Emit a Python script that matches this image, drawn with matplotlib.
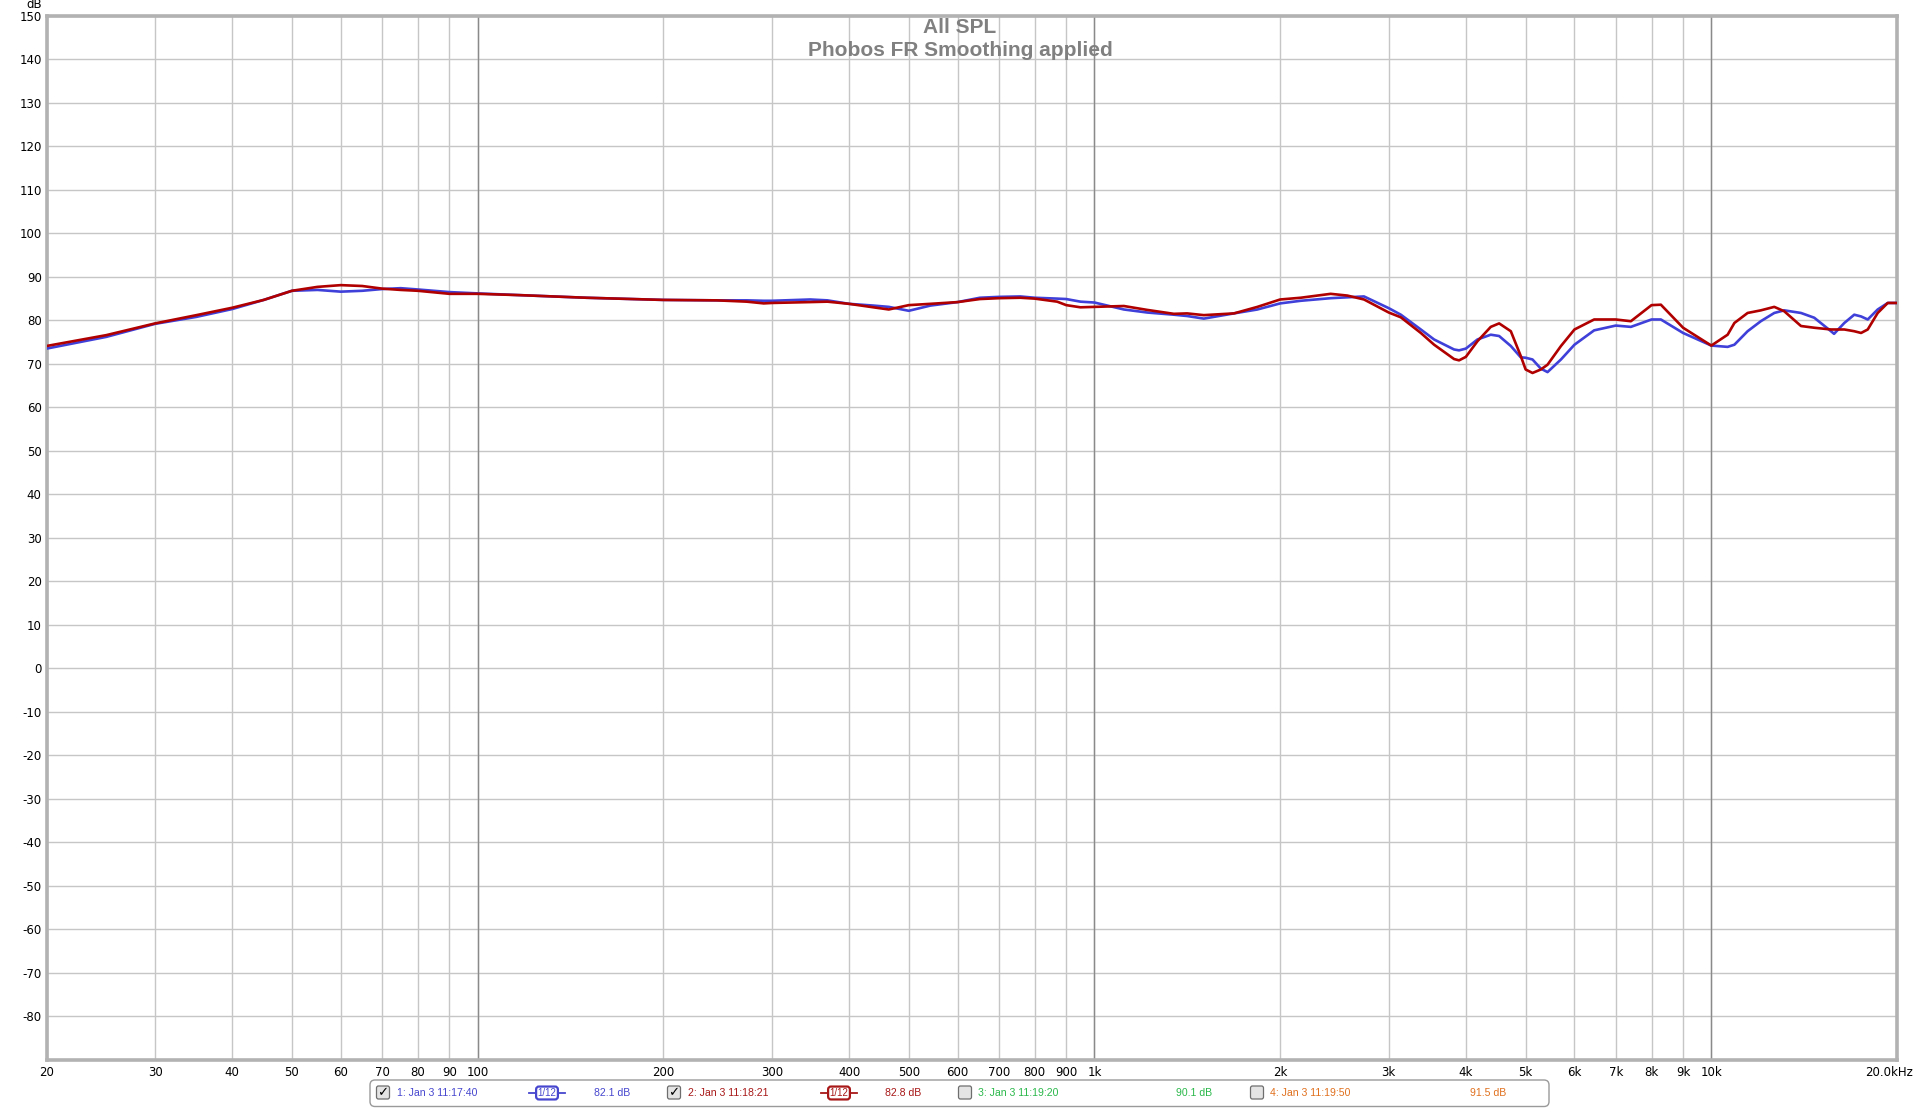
import matplotlib
matplotlib.use("Agg")
import matplotlib.pyplot as plt
from matplotlib.patches import FancyBboxPatch
from matplotlib.lines import Line2D
import matplotlib.transforms as mtransforms

# ---------------- data ----------------
freq_blue = [20, 25, 30, 35, 40, 45, 50, 55, 60, 65, 70, 75, 80, 90, 100, 117, 150, 200, 244,
             273, 291, 300, 346, 369, 400, 438, 464, 500, 542, 600, 652, 700, 758, 800, 870,
             900, 949, 1000, 1116, 1218, 1345, 1413, 1504, 1683, 1837, 2000, 2159, 2415, 2570,
             2735, 3000, 3138, 3381, 3553, 3828, 3900, 4000, 4177, 4390, 4529, 4731, 4910,
             5000, 5130, 5292, 5426, 5705, 6000, 6457, 7000, 7406, 8000, 8284, 9000, 10000,
             10628, 10900, 11451, 12029, 12649, 13127, 13975, 14686, 15633, 15813, 16430,
             17050, 17490, 17930, 18610, 19320, 20000]
spl_blue = [73.5, 76.2, 79.2, 80.8, 82.6, 84.7, 86.8, 87.0, 86.6, 86.8, 87.2, 87.4, 87.1, 86.5,
            86.2, 85.8, 85.2, 84.7, 84.6, 84.6, 84.5, 84.5, 84.8, 84.6, 83.8, 83.4, 83.1, 82.2,
            83.4, 84.2, 85.2, 85.4, 85.5, 85.2, 85.0, 84.9, 84.3, 84.1, 82.5, 81.8, 81.3, 81.0,
            80.4, 81.6, 82.5, 83.9, 84.5, 85.1, 85.3, 85.5, 82.8, 81.3, 77.9, 75.6, 73.3, 73.1,
            73.5, 75.6, 76.7, 76.4, 74.1, 71.5, 71.4, 71.0, 68.9, 68.1, 71.0, 74.4, 77.7, 78.8,
            78.5, 80.2, 80.2, 77.1, 74.2, 73.9, 74.4, 77.5, 79.8, 81.7, 82.3, 81.7, 80.6, 77.5,
            76.9, 79.4, 81.3, 80.9, 80.2, 82.5, 84.0, 84.0]

freq_red = [20, 25, 30, 35, 40, 45, 50, 55, 60, 65, 70, 75, 80, 90, 100, 117, 150, 200, 244,
            273, 291, 300, 346, 369, 400, 438, 464, 500, 542, 600, 652, 700, 758, 800, 870,
            900, 949, 1000, 1116, 1218, 1345, 1413, 1504, 1683, 1837, 2000, 2159, 2415, 2570,
            2735, 3000, 3138, 3381, 3553, 3828, 3900, 4000, 4177, 4390, 4529, 4731, 4910,
            5000, 5130, 5292, 5426, 5705, 6000, 6457, 7000, 7406, 8000, 8284, 9000, 10000,
            10628, 10900, 11451, 12029, 12649, 13127, 13975, 14686, 15633, 16430, 17050,
            17490, 17930, 18610, 19320, 20000]
spl_red = [74.1, 76.6, 79.3, 81.2, 82.9, 84.7, 86.8, 87.7, 88.1, 87.9, 87.3, 87.0, 86.8, 86.1,
           86.1, 85.8, 85.2, 84.7, 84.6, 84.3, 83.9, 84.0, 84.2, 84.3, 83.8, 83.0, 82.5, 83.5,
           83.8, 84.2, 84.9, 85.1, 85.2, 85.0, 84.3, 83.5, 83.0, 83.1, 83.3, 82.4, 81.5, 81.6,
           81.2, 81.6, 83.1, 84.8, 85.2, 86.1, 85.7, 84.8, 81.8, 80.7, 77.1, 74.4, 71.1, 70.8,
           71.6, 75.2, 78.5, 79.3, 77.5, 71.8, 68.7, 67.9, 68.7, 69.8, 74.1, 77.9, 80.2, 80.2,
           79.8, 83.5, 83.6, 78.3, 74.2, 76.7, 79.4, 81.7, 82.3, 83.1, 82.1, 78.7, 78.3, 77.9,
           77.9, 77.5, 77.1, 77.9, 81.7, 84.0, 84.0]

xticks = [20, 30, 40, 50, 60, 70, 80, 90, 100, 200, 300, 400, 500, 600, 700, 800, 900,
          1000, 2000, 3000, 4000, 5000, 6000, 7000, 8000, 9000, 10000, 20000]
xtick_labels = ["20", "30", "40", "50", "60", "70", "80", "90", "100", "200", "300", "400",
                "500", "600", "700", "800", "900", "1k", "2k", "3k", "4k", "5k", "6k", "7k",
                "8k", "9k", "10k", "20.0kHz"]
decades = [100, 1000, 10000]
yticks = list(range(150, -81, -10))
ytick_labels = [str(v) for v in yticks]

title_lines = ["All SPL", "Phobos FR Smoothing applied"]
legend_labels = ["1: Jan 3 11:17:40", "2: Jan 3 11:18:21", "3: Jan 3 11:19:20", "4: Jan 3 11:19:50"]
legend_levels = ["82.1 dB", "82.8 dB", "90.1 dB", "91.5 dB"]
legend_checked = [True, True, False, False]
legend_smoothing = ["1/12", "1/12", None, None]

# ---------------- style ----------------
W, H = 1920, 1108
BLUE = "#3f3fd9"
RED = "#b00000"
legend_colors = ["#4646cf", "#a81818", "#2ab84a", "#e0701e"]
GRID = "#c6c6c6"
DECADE = "#8a8a8a"

fig = plt.figure(figsize=(W / 100, H / 100), dpi=100)
fig.patch.set_facecolor("white")

L, R, T, B = 46.5, 1897, 16, 1059.5
ax = fig.add_axes([L / W, 1 - B / H, (R - L) / W, (B - T) / H])
ax.set_xscale("log")
ax.set_xlim(20, 20000)
ax.set_ylim(-90, 150)

ax.set_xticks(xticks)
ax.set_xticklabels(xtick_labels)
ax.xaxis.set_minor_locator(matplotlib.ticker.NullLocator())
ax.set_yticks(yticks)
ax.set_yticklabels(ytick_labels)
ax.tick_params(axis="both", length=0, labelsize=8.5, colors="black")
ax.tick_params(axis="x", pad=5)
ax.tick_params(axis="y", pad=3.5)
for lab in ax.get_xticklabels() + ax.get_yticklabels():
    lab.set_fontfamily("DejaVu Sans")

last = ax.get_xticklabels()[-1]
last.set_horizontalalignment("right")
last.set_transform(last.get_transform() + mtransforms.ScaledTranslation(16 / 100, 0, fig.dpi_scale_trans))

ax.grid(True, which="major", color=GRID, linewidth=1.0)
for d in decades:
    ax.axvline(d, color=DECADE, linewidth=1.0, zorder=1.5)
ax.set_axisbelow(True)

for s in ax.spines.values():
    s.set_color("#b2b2b2")
    s.set_linewidth(2.6)

ax.plot(freq_blue, spl_blue, color=BLUE, linewidth=1.9, zorder=3, solid_capstyle="round", solid_joinstyle="round")
ax.plot(freq_red, spl_red, color=RED, linewidth=1.9, zorder=4, solid_capstyle="round", solid_joinstyle="round")

# ---------------- overlay in pixel coordinates ----------------
ov = fig.add_axes([0, 0, 1, 1], facecolor="none")
ov.set_xlim(0, W)
ov.set_ylim(H, 0)
ov.axis("off")

ov.text(960, 33, title_lines[0], ha="center", va="baseline", fontsize=15, fontweight="bold",
        color="#808080", family="Liberation Sans")
ov.text(960, 56, title_lines[1], ha="center", va="baseline", fontsize=15, fontweight="bold",
        color="#808080", family="Liberation Sans")
ov.text(34, 8.5, "dB", ha="center", va="baseline", fontsize=8.5, color="black", family="DejaVu Sans")

# legend box
ov.add_patch(FancyBboxPatch((370, 1080), 1549 - 370, 26.5, boxstyle="round,pad=0,rounding_size=5",
                            facecolor="white", edgecolor="#9a9a9a", linewidth=1.0))

check_x = [383, 674, 965, 1257]
label_x = [397, 688, 978, 1270]
icon_x = [547, 839, None, None]
level_x = [612, 903, 1194, 1488]
yc = 1093
for i in range(4):
    cx = check_x[i]
    ov.add_patch(FancyBboxPatch((cx - 6.5, yc - 7), 13, 13, boxstyle="round,pad=0,rounding_size=2",
                                facecolor="#e4e4e4", edgecolor="#6e6e6e", linewidth=0.9))
    if legend_checked[i]:
        ov.text(cx, yc - 0.5, "\u2713", ha="center", va="center", fontsize=9.5, fontweight="bold",
                color="black", family="DejaVu Sans")
    ov.text(label_x[i], yc, legend_labels[i], ha="left", va="center", fontsize=7.6,
            color=legend_colors[i], family="Liberation Sans")
    ov.text(level_x[i], yc, legend_levels[i], ha="center", va="center", fontsize=7.6,
            color=legend_colors[i], family="Liberation Sans")
    if legend_smoothing[i] is not None:
        ix = icon_x[i]
        ov.add_line(Line2D([ix - 18, ix + 18], [yc, yc], color=legend_colors[i], linewidth=1.3))
        ov.text(ix, yc, legend_smoothing[i], ha="center", va="center", fontsize=7.0,
                color=legend_colors[i], family="Liberation Sans",
                bbox=dict(boxstyle="round,pad=0.15,rounding_size=0.3", facecolor="white",
                          edgecolor=legend_colors[i], linewidth=1.6))

fig.savefig("out.png", dpi=100, facecolor="white")
